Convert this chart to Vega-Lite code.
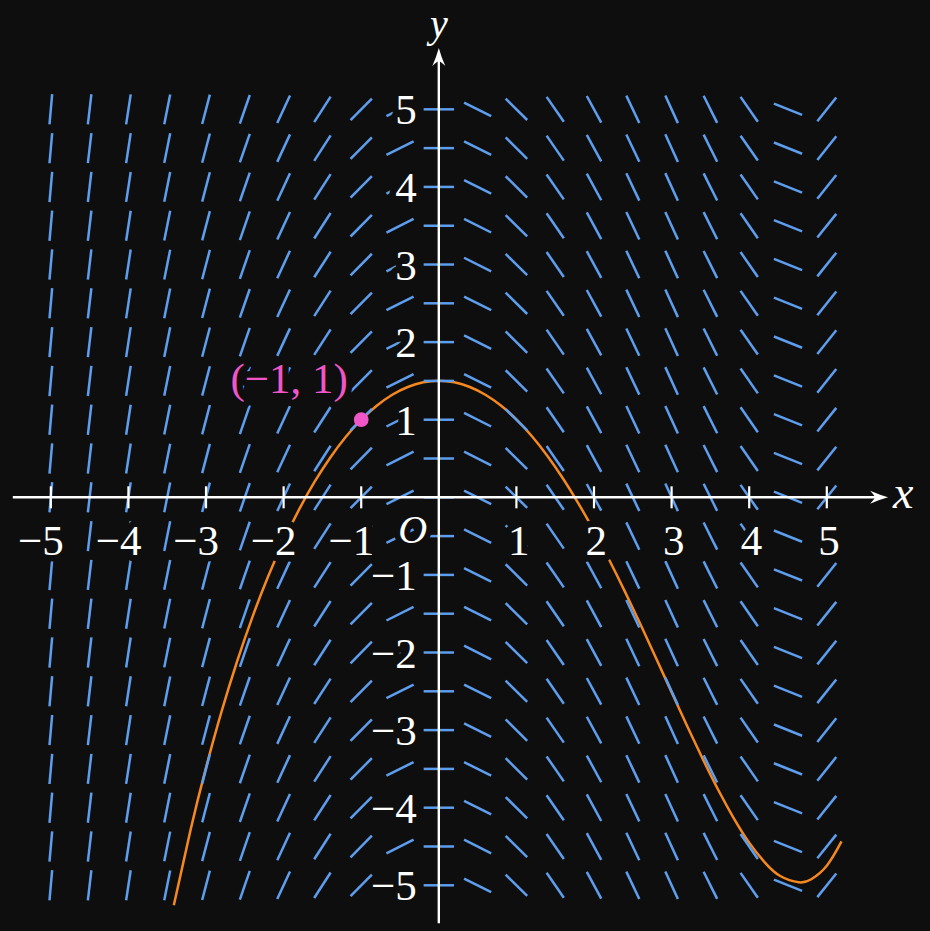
{
  "$schema": "https://vega.github.io/schema/vega-lite/v6.json",
  "width": 930,
  "height": 931,
  "padding": 0,
  "autosize": "none",
  "background": "#0e0e0e",
  "config": {"view": {"stroke": null}},
  "datasets": {
    "curve": [
      {"x":-3.415,"y":-5.258},{"x":-3.2,"y":-4.289},{"x":-3.0,"y":-3.484},{"x":-2.8,"y":-2.762},{"x":-2.6,"y":-2.116},{"x":-2.4,"y":-1.537},{"x":-2.2,"y":-1.021},{"x":-2.0,"y":-0.562},{"x":-1.8,"y":-0.156},{"x":-1.6,"y":0.201},{"x":-1.4,"y":0.511},{"x":-1.2,"y":0.777},{"x":-1.0,"y":1.0},{"x":-0.8,"y":1.181},{"x":-0.6,"y":1.322},{"x":-0.4,"y":1.422},{"x":-0.2,"y":1.482},{"x":0,"y":1.502},{"x":0.2,"y":1.482},{"x":0.4,"y":1.422},{"x":0.6,"y":1.322},{"x":0.8,"y":1.183},{"x":1.0,"y":1.004},{"x":1.2,"y":0.787},{"x":1.4,"y":0.533},{"x":1.6,"y":0.243},{"x":1.8,"y":-0.08},{"x":2.0,"y":-0.434},{"x":2.2,"y":-0.815},{"x":2.4,"y":-1.219},{"x":2.6,"y":-1.64},{"x":2.8,"y":-2.074},{"x":3.0,"y":-2.512},{"x":3.2,"y":-2.947},{"x":3.4,"y":-3.369},{"x":3.6,"y":-3.769},{"x":3.8,"y":-4.133},{"x":4.0,"y":-4.45},{"x":4.2,"y":-4.704},{"x":4.4,"y":-4.88},{"x":4.64,"y":-4.961},{"x":4.8,"y":-4.922},{"x":5.0,"y":-4.748},{"x":5.19,"y":-4.435}
    ],
    "field": [
      {"x":-5,"y":-5,"d":84.92},{"x":-5,"y":-4.5,"d":84.92},{"x":-5,"y":-4,"d":84.92},{"x":-5,"y":-3.5,"d":84.92},{"x":-5,"y":-3,"d":84.92},{"x":-5,"y":-2.5,"d":84.92},{"x":-5,"y":-2,"d":84.92},{"x":-5,"y":-1.5,"d":84.92},{"x":-5,"y":-1,"d":84.92},{"x":-5,"y":-0.5,"d":84.92},{"x":-5,"y":0,"d":84.92},{"x":-5,"y":0.5,"d":84.92},{"x":-5,"y":1,"d":84.92},{"x":-5,"y":1.5,"d":84.92},{"x":-5,"y":2,"d":84.92},{"x":-5,"y":2.5,"d":84.92},{"x":-5,"y":3,"d":84.92},{"x":-5,"y":3.5,"d":84.92},{"x":-5,"y":4,"d":84.92},{"x":-5,"y":4.5,"d":84.92},{"x":-5,"y":5,"d":84.92},
      {"x":-4.5,"y":-5,"d":83.37},{"x":-4.5,"y":-4.5,"d":83.37},{"x":-4.5,"y":-4,"d":83.37},{"x":-4.5,"y":-3.5,"d":83.37},{"x":-4.5,"y":-3,"d":83.37},{"x":-4.5,"y":-2.5,"d":83.37},{"x":-4.5,"y":-2,"d":83.37},{"x":-4.5,"y":-1.5,"d":83.37},{"x":-4.5,"y":-1,"d":83.37},{"x":-4.5,"y":-0.5,"d":83.37},{"x":-4.5,"y":0,"d":83.37},{"x":-4.5,"y":0.5,"d":83.37},{"x":-4.5,"y":1,"d":83.37},{"x":-4.5,"y":1.5,"d":83.37},{"x":-4.5,"y":2,"d":83.37},{"x":-4.5,"y":2.5,"d":83.37},{"x":-4.5,"y":3,"d":83.37},{"x":-4.5,"y":3.5,"d":83.37},{"x":-4.5,"y":4,"d":83.37},{"x":-4.5,"y":4.5,"d":83.37},{"x":-4.5,"y":5,"d":83.37},
      {"x":-4,"y":-5,"d":81.33},{"x":-4,"y":-4.5,"d":81.33},{"x":-4,"y":-4,"d":81.33},{"x":-4,"y":-3.5,"d":81.33},{"x":-4,"y":-3,"d":81.33},{"x":-4,"y":-2.5,"d":81.33},{"x":-4,"y":-2,"d":81.33},{"x":-4,"y":-1.5,"d":81.33},{"x":-4,"y":-1,"d":81.33},{"x":-4,"y":-0.5,"d":81.33},{"x":-4,"y":0,"d":81.33},{"x":-4,"y":0.5,"d":81.33},{"x":-4,"y":1,"d":81.33},{"x":-4,"y":1.5,"d":81.33},{"x":-4,"y":2,"d":81.33},{"x":-4,"y":2.5,"d":81.33},{"x":-4,"y":3,"d":81.33},{"x":-4,"y":3.5,"d":81.33},{"x":-4,"y":4,"d":81.33},{"x":-4,"y":4.5,"d":81.33},{"x":-4,"y":5,"d":81.33},
      {"x":-3.5,"y":-5,"d":78.69},{"x":-3.5,"y":-4.5,"d":78.69},{"x":-3.5,"y":-4,"d":78.69},{"x":-3.5,"y":-3.5,"d":78.69},{"x":-3.5,"y":-3,"d":78.69},{"x":-3.5,"y":-2.5,"d":78.69},{"x":-3.5,"y":-2,"d":78.69},{"x":-3.5,"y":-1.5,"d":78.69},{"x":-3.5,"y":-1,"d":78.69},{"x":-3.5,"y":-0.5,"d":78.69},{"x":-3.5,"y":0,"d":78.69},{"x":-3.5,"y":0.5,"d":78.69},{"x":-3.5,"y":1,"d":78.69},{"x":-3.5,"y":1.5,"d":78.69},{"x":-3.5,"y":2,"d":78.69},{"x":-3.5,"y":2.5,"d":78.69},{"x":-3.5,"y":3,"d":78.69},{"x":-3.5,"y":3.5,"d":78.69},{"x":-3.5,"y":4,"d":78.69},{"x":-3.5,"y":4.5,"d":78.69},{"x":-3.5,"y":5,"d":78.69},
      {"x":-3,"y":-5,"d":75.29},{"x":-3,"y":-4.5,"d":75.29},{"x":-3,"y":-4,"d":75.29},{"x":-3,"y":-3.5,"d":75.29},{"x":-3,"y":-3,"d":75.29},{"x":-3,"y":-2.5,"d":75.29},{"x":-3,"y":-2,"d":75.29},{"x":-3,"y":-1.5,"d":75.29},{"x":-3,"y":-1,"d":75.29},{"x":-3,"y":-0.5,"d":75.29},{"x":-3,"y":0,"d":75.29},{"x":-3,"y":0.5,"d":75.29},{"x":-3,"y":1,"d":75.29},{"x":-3,"y":1.5,"d":75.29},{"x":-3,"y":2,"d":75.29},{"x":-3,"y":2.5,"d":75.29},{"x":-3,"y":3,"d":75.29},{"x":-3,"y":3.5,"d":75.29},{"x":-3,"y":4,"d":75.29},{"x":-3,"y":4.5,"d":75.29},{"x":-3,"y":5,"d":75.29},
      {"x":-2.5,"y":-5,"d":70.92},{"x":-2.5,"y":-4.5,"d":70.92},{"x":-2.5,"y":-4,"d":70.92},{"x":-2.5,"y":-3.5,"d":70.92},{"x":-2.5,"y":-3,"d":70.92},{"x":-2.5,"y":-2.5,"d":70.92},{"x":-2.5,"y":-2,"d":70.92},{"x":-2.5,"y":-1.5,"d":70.92},{"x":-2.5,"y":-1,"d":70.92},{"x":-2.5,"y":-0.5,"d":70.92},{"x":-2.5,"y":0,"d":70.92},{"x":-2.5,"y":0.5,"d":70.92},{"x":-2.5,"y":1,"d":70.92},{"x":-2.5,"y":1.5,"d":70.92},{"x":-2.5,"y":2,"d":70.92},{"x":-2.5,"y":2.5,"d":70.92},{"x":-2.5,"y":3,"d":70.92},{"x":-2.5,"y":3.5,"d":70.92},{"x":-2.5,"y":4,"d":70.92},{"x":-2.5,"y":4.5,"d":70.92},{"x":-2.5,"y":5,"d":70.92},
      {"x":-2,"y":-5,"d":65.16},{"x":-2,"y":-4.5,"d":65.16},{"x":-2,"y":-4,"d":65.16},{"x":-2,"y":-3.5,"d":65.16},{"x":-2,"y":-3,"d":65.16},{"x":-2,"y":-2.5,"d":65.16},{"x":-2,"y":-2,"d":65.16},{"x":-2,"y":-1.5,"d":65.16},{"x":-2,"y":-1,"d":65.16},{"x":-2,"y":-0.5,"d":65.16},{"x":-2,"y":0,"d":65.16},{"x":-2,"y":0.5,"d":65.16},{"x":-2,"y":1,"d":65.16},{"x":-2,"y":1.5,"d":65.16},{"x":-2,"y":2,"d":65.16},{"x":-2,"y":2.5,"d":65.16},{"x":-2,"y":3,"d":65.16},{"x":-2,"y":3.5,"d":65.16},{"x":-2,"y":4,"d":65.16},{"x":-2,"y":4.5,"d":65.16},{"x":-2,"y":5,"d":65.16},
      {"x":-1.5,"y":-5,"d":57.18},{"x":-1.5,"y":-4.5,"d":57.18},{"x":-1.5,"y":-4,"d":57.18},{"x":-1.5,"y":-3.5,"d":57.18},{"x":-1.5,"y":-3,"d":57.18},{"x":-1.5,"y":-2.5,"d":57.18},{"x":-1.5,"y":-2,"d":57.18},{"x":-1.5,"y":-1.5,"d":57.18},{"x":-1.5,"y":-1,"d":57.18},{"x":-1.5,"y":-0.5,"d":57.18},{"x":-1.5,"y":0,"d":57.18},{"x":-1.5,"y":0.5,"d":57.18},{"x":-1.5,"y":1,"d":57.18},{"x":-1.5,"y":1.5,"d":57.18},{"x":-1.5,"y":2,"d":57.18},{"x":-1.5,"y":2.5,"d":57.18},{"x":-1.5,"y":3,"d":57.18},{"x":-1.5,"y":3.5,"d":57.18},{"x":-1.5,"y":4,"d":57.18},{"x":-1.5,"y":4.5,"d":57.18},{"x":-1.5,"y":5,"d":57.18},
      {"x":-1,"y":-5,"d":45.28},{"x":-1,"y":-4.5,"d":45.28},{"x":-1,"y":-4,"d":45.28},{"x":-1,"y":-3.5,"d":45.28},{"x":-1,"y":-3,"d":45.28},{"x":-1,"y":-2.5,"d":45.28},{"x":-1,"y":-2,"d":45.28},{"x":-1,"y":-1.5,"d":45.28},{"x":-1,"y":-1,"d":45.28},{"x":-1,"y":-0.5,"d":45.28},{"x":-1,"y":0,"d":45.28},{"x":-1,"y":0.5,"d":45.28},{"x":-1,"y":1,"d":45.28},{"x":-1,"y":1.5,"d":45.28},{"x":-1,"y":2,"d":45.28},{"x":-1,"y":2.5,"d":45.28},{"x":-1,"y":3,"d":45.28},{"x":-1,"y":3.5,"d":45.28},{"x":-1,"y":4,"d":45.28},{"x":-1,"y":4.5,"d":45.28},{"x":-1,"y":5,"d":45.28},
      {"x":-0.5,"y":-5,"d":26.59},{"x":-0.5,"y":-4.5,"d":26.59},{"x":-0.5,"y":-4,"d":26.59},{"x":-0.5,"y":-3.5,"d":26.59},{"x":-0.5,"y":-3,"d":26.59},{"x":-0.5,"y":-2.5,"d":26.59},{"x":-0.5,"y":-2,"d":26.59},{"x":-0.5,"y":-1.5,"d":26.59},{"x":-0.5,"y":-1,"d":26.59},{"x":-0.5,"y":-0.5,"d":26.59},{"x":-0.5,"y":0,"d":26.59},{"x":-0.5,"y":0.5,"d":26.59},{"x":-0.5,"y":1,"d":26.59},{"x":-0.5,"y":1.5,"d":26.59},{"x":-0.5,"y":2,"d":26.59},{"x":-0.5,"y":2.5,"d":26.59},{"x":-0.5,"y":3,"d":26.59},{"x":-0.5,"y":3.5,"d":26.59},{"x":-0.5,"y":4,"d":26.59},{"x":-0.5,"y":4.5,"d":26.59},{"x":-0.5,"y":5,"d":26.59},
      {"x":0,"y":-5,"d":0},{"x":0,"y":-4.5,"d":0},{"x":0,"y":-4,"d":0},{"x":0,"y":-3.5,"d":0},{"x":0,"y":-3,"d":0},{"x":0,"y":-2.5,"d":0},{"x":0,"y":-2,"d":0},{"x":0,"y":-1.5,"d":0},{"x":0,"y":-1,"d":0},{"x":0,"y":-0.5,"d":0},{"x":0,"y":0,"d":0},{"x":0,"y":0.5,"d":0},{"x":0,"y":1,"d":0},{"x":0,"y":1.5,"d":0},{"x":0,"y":2,"d":0},{"x":0,"y":2.5,"d":0},{"x":0,"y":3,"d":0},{"x":0,"y":3.5,"d":0},{"x":0,"y":4,"d":0},{"x":0,"y":4.5,"d":0},{"x":0,"y":5,"d":0},
      {"x":0.5,"y":-5,"d":-26.54},{"x":0.5,"y":-4.5,"d":-26.54},{"x":0.5,"y":-4,"d":-26.54},{"x":0.5,"y":-3.5,"d":-26.54},{"x":0.5,"y":-3,"d":-26.54},{"x":0.5,"y":-2.5,"d":-26.54},{"x":0.5,"y":-2,"d":-26.54},{"x":0.5,"y":-1.5,"d":-26.54},{"x":0.5,"y":-1,"d":-26.54},{"x":0.5,"y":-0.5,"d":-26.54},{"x":0.5,"y":0,"d":-26.54},{"x":0.5,"y":0.5,"d":-26.54},{"x":0.5,"y":1,"d":-26.54},{"x":0.5,"y":1.5,"d":-26.54},{"x":0.5,"y":2,"d":-26.54},{"x":0.5,"y":2.5,"d":-26.54},{"x":0.5,"y":3,"d":-26.54},{"x":0.5,"y":3.5,"d":-26.54},{"x":0.5,"y":4,"d":-26.54},{"x":0.5,"y":4.5,"d":-26.54},{"x":0.5,"y":5,"d":-26.54},
      {"x":1,"y":-5,"d":-44.71},{"x":1,"y":-4.5,"d":-44.71},{"x":1,"y":-4,"d":-44.71},{"x":1,"y":-3.5,"d":-44.71},{"x":1,"y":-3,"d":-44.71},{"x":1,"y":-2.5,"d":-44.71},{"x":1,"y":-2,"d":-44.71},{"x":1,"y":-1.5,"d":-44.71},{"x":1,"y":-1,"d":-44.71},{"x":1,"y":-0.5,"d":-44.71},{"x":1,"y":0,"d":-44.71},{"x":1,"y":0.5,"d":-44.71},{"x":1,"y":1,"d":-44.71},{"x":1,"y":1.5,"d":-44.71},{"x":1,"y":2,"d":-44.71},{"x":1,"y":2.5,"d":-44.71},{"x":1,"y":3,"d":-44.71},{"x":1,"y":3.5,"d":-44.71},{"x":1,"y":4,"d":-44.71},{"x":1,"y":4.5,"d":-44.71},{"x":1,"y":5,"d":-44.71},
      {"x":1.5,"y":-5,"d":-55.4},{"x":1.5,"y":-4.5,"d":-55.4},{"x":1.5,"y":-4,"d":-55.4},{"x":1.5,"y":-3.5,"d":-55.4},{"x":1.5,"y":-3,"d":-55.4},{"x":1.5,"y":-2.5,"d":-55.4},{"x":1.5,"y":-2,"d":-55.4},{"x":1.5,"y":-1.5,"d":-55.4},{"x":1.5,"y":-1,"d":-55.4},{"x":1.5,"y":-0.5,"d":-55.4},{"x":1.5,"y":0,"d":-55.4},{"x":1.5,"y":0.5,"d":-55.4},{"x":1.5,"y":1,"d":-55.4},{"x":1.5,"y":1.5,"d":-55.4},{"x":1.5,"y":2,"d":-55.4},{"x":1.5,"y":2.5,"d":-55.4},{"x":1.5,"y":3,"d":-55.4},{"x":1.5,"y":3.5,"d":-55.4},{"x":1.5,"y":4,"d":-55.4},{"x":1.5,"y":4.5,"d":-55.4},{"x":1.5,"y":5,"d":-55.4},
      {"x":2,"y":-5,"d":-61.48},{"x":2,"y":-4.5,"d":-61.48},{"x":2,"y":-4,"d":-61.48},{"x":2,"y":-3.5,"d":-61.48},{"x":2,"y":-3,"d":-61.48},{"x":2,"y":-2.5,"d":-61.48},{"x":2,"y":-2,"d":-61.48},{"x":2,"y":-1.5,"d":-61.48},{"x":2,"y":-1,"d":-61.48},{"x":2,"y":-0.5,"d":-61.48},{"x":2,"y":0,"d":-61.48},{"x":2,"y":0.5,"d":-61.48},{"x":2,"y":1,"d":-61.48},{"x":2,"y":1.5,"d":-61.48},{"x":2,"y":2,"d":-61.48},{"x":2,"y":2.5,"d":-61.48},{"x":2,"y":3,"d":-61.48},{"x":2,"y":3.5,"d":-61.48},{"x":2,"y":4,"d":-61.48},{"x":2,"y":4.5,"d":-61.48},{"x":2,"y":5,"d":-61.48},
      {"x":2.5,"y":-5,"d":-64.63},{"x":2.5,"y":-4.5,"d":-64.63},{"x":2.5,"y":-4,"d":-64.63},{"x":2.5,"y":-3.5,"d":-64.63},{"x":2.5,"y":-3,"d":-64.63},{"x":2.5,"y":-2.5,"d":-64.63},{"x":2.5,"y":-2,"d":-64.63},{"x":2.5,"y":-1.5,"d":-64.63},{"x":2.5,"y":-1,"d":-64.63},{"x":2.5,"y":-0.5,"d":-64.63},{"x":2.5,"y":0,"d":-64.63},{"x":2.5,"y":0.5,"d":-64.63},{"x":2.5,"y":1,"d":-64.63},{"x":2.5,"y":1.5,"d":-64.63},{"x":2.5,"y":2,"d":-64.63},{"x":2.5,"y":2.5,"d":-64.63},{"x":2.5,"y":3,"d":-64.63},{"x":2.5,"y":3.5,"d":-64.63},{"x":2.5,"y":4,"d":-64.63},{"x":2.5,"y":4.5,"d":-64.63},{"x":2.5,"y":5,"d":-64.63},
      {"x":3,"y":-5,"d":-65.45},{"x":3,"y":-4.5,"d":-65.45},{"x":3,"y":-4,"d":-65.45},{"x":3,"y":-3.5,"d":-65.45},{"x":3,"y":-3,"d":-65.45},{"x":3,"y":-2.5,"d":-65.45},{"x":3,"y":-2,"d":-65.45},{"x":3,"y":-1.5,"d":-65.45},{"x":3,"y":-1,"d":-65.45},{"x":3,"y":-0.5,"d":-65.45},{"x":3,"y":0,"d":-65.45},{"x":3,"y":0.5,"d":-65.45},{"x":3,"y":1,"d":-65.45},{"x":3,"y":1.5,"d":-65.45},{"x":3,"y":2,"d":-65.45},{"x":3,"y":2.5,"d":-65.45},{"x":3,"y":3,"d":-65.45},{"x":3,"y":3.5,"d":-65.45},{"x":3,"y":4,"d":-65.45},{"x":3,"y":4.5,"d":-65.45},{"x":3,"y":5,"d":-65.45},
      {"x":3.5,"y":-5,"d":-63.43},{"x":3.5,"y":-4.5,"d":-63.43},{"x":3.5,"y":-4,"d":-63.43},{"x":3.5,"y":-3.5,"d":-63.43},{"x":3.5,"y":-3,"d":-63.43},{"x":3.5,"y":-2.5,"d":-63.43},{"x":3.5,"y":-2,"d":-63.43},{"x":3.5,"y":-1.5,"d":-63.43},{"x":3.5,"y":-1,"d":-63.43},{"x":3.5,"y":-0.5,"d":-63.43},{"x":3.5,"y":0,"d":-63.43},{"x":3.5,"y":0.5,"d":-63.43},{"x":3.5,"y":1,"d":-63.43},{"x":3.5,"y":1.5,"d":-63.43},{"x":3.5,"y":2,"d":-63.43},{"x":3.5,"y":2.5,"d":-63.43},{"x":3.5,"y":3,"d":-63.43},{"x":3.5,"y":3.5,"d":-63.43},{"x":3.5,"y":4,"d":-63.43},{"x":3.5,"y":4.5,"d":-63.43},{"x":3.5,"y":5,"d":-63.43},
      {"x":4,"y":-5,"d":-55.22},{"x":4,"y":-4.5,"d":-55.22},{"x":4,"y":-4,"d":-55.22},{"x":4,"y":-3.5,"d":-55.22},{"x":4,"y":-3,"d":-55.22},{"x":4,"y":-2.5,"d":-55.22},{"x":4,"y":-2,"d":-55.22},{"x":4,"y":-1.5,"d":-55.22},{"x":4,"y":-1,"d":-55.22},{"x":4,"y":-0.5,"d":-55.22},{"x":4,"y":0,"d":-55.22},{"x":4,"y":0.5,"d":-55.22},{"x":4,"y":1,"d":-55.22},{"x":4,"y":1.5,"d":-55.22},{"x":4,"y":2,"d":-55.22},{"x":4,"y":2.5,"d":-55.22},{"x":4,"y":3,"d":-55.22},{"x":4,"y":3.5,"d":-55.22},{"x":4,"y":4,"d":-55.22},{"x":4,"y":4.5,"d":-55.22},{"x":4,"y":5,"d":-55.22},
      {"x":4.5,"y":-5,"d":-21.77},{"x":4.5,"y":-4.5,"d":-21.77},{"x":4.5,"y":-4,"d":-21.77},{"x":4.5,"y":-3.5,"d":-21.77},{"x":4.5,"y":-3,"d":-21.77},{"x":4.5,"y":-2.5,"d":-21.77},{"x":4.5,"y":-2,"d":-21.77},{"x":4.5,"y":-1.5,"d":-21.77},{"x":4.5,"y":-1,"d":-21.77},{"x":4.5,"y":-0.5,"d":-21.77},{"x":4.5,"y":0,"d":-21.77},{"x":4.5,"y":0.5,"d":-21.77},{"x":4.5,"y":1,"d":-21.77},{"x":4.5,"y":1.5,"d":-21.77},{"x":4.5,"y":2,"d":-21.77},{"x":4.5,"y":2.5,"d":-21.77},{"x":4.5,"y":3,"d":-21.77},{"x":4.5,"y":3.5,"d":-21.77},{"x":4.5,"y":4,"d":-21.77},{"x":4.5,"y":4.5,"d":-21.77},{"x":4.5,"y":5,"d":-21.77},
      {"x":5,"y":-5,"d":51.34},{"x":5,"y":-4.5,"d":51.34},{"x":5,"y":-4,"d":51.34},{"x":5,"y":-3.5,"d":51.34},{"x":5,"y":-3,"d":51.34},{"x":5,"y":-2.5,"d":51.34},{"x":5,"y":-2,"d":51.34},{"x":5,"y":-1.5,"d":51.34},{"x":5,"y":-1,"d":51.34},{"x":5,"y":-0.5,"d":51.34},{"x":5,"y":0,"d":51.34},{"x":5,"y":0.5,"d":51.34},{"x":5,"y":1,"d":51.34},{"x":5,"y":1.5,"d":51.34},{"x":5,"y":2,"d":51.34},{"x":5,"y":2.5,"d":51.34},{"x":5,"y":3,"d":51.34},{"x":5,"y":3.5,"d":51.34},{"x":5,"y":4,"d":51.34},{"x":5,"y":4.5,"d":51.34},{"x":5,"y":5,"d":51.34}
    ],
    "axes": [
      {"x":-5.49,"x2":5.72,"y":0,"y2":0},
      {"x":0,"x2":0,"y":-5.49,"y2":5.72}
    ],
    "arrows": [
      {"x":5.79,"y":0,"d":0},
      {"x":0,"y":5.79,"d":90}
    ],
    "xticks": [
      {"x":-5,"y":0,"t":"−5"},{"x":-4,"y":0,"t":"−4"},{"x":-3,"y":0,"t":"−3"},{"x":-2,"y":0,"t":"−2"},{"x":-1,"y":0,"t":"−1"},
      {"x":1,"y":0,"t":"1"},{"x":2,"y":0,"t":"2"},{"x":3,"y":0,"t":"3"},{"x":4,"y":0,"t":"4"},{"x":5,"y":0,"t":"5"}
    ],
    "yticks": [
      {"x":0,"y":5,"t":"5"},{"x":0,"y":4,"t":"4"},{"x":0,"y":3,"t":"3"},{"x":0,"y":2,"t":"2"},{"x":0,"y":1,"t":"1"},
      {"x":0,"y":-1,"t":"−1"},{"x":0,"y":-2,"t":"−2"},{"x":0,"y":-3,"t":"−3"},{"x":0,"y":-4,"t":"−4"},{"x":0,"y":-5,"t":"−5"}
    ],
    "origin": [{"x":0,"y":0,"t":"O"}],
    "xname": [{"x":5.79,"y":0,"t":"x"}],
    "yname": [{"x":0,"y":5.79,"t":"y"}],
    "point": [{"x":-1,"y":1,"t":"(−1, 1)"}]
  },
  "encoding": {
    "x": {"field":"x","type":"quantitative","scale":{"domain":[-5.655,6.33],"nice":false,"zero":false},"axis":null},
    "y": {"field":"y","type":"quantitative","scale":{"domain":[-5.589,6.409],"nice":false,"zero":false},"axis":null}
  },
  "layer": [
    {
      "data": {"name":"curve"},
      "mark": {"type":"line","color":"#f5891f","strokeWidth":2.5,"interpolate":"natural"}
    },
    {
      "data": {"name":"field"},
      "mark": {"type":"point","shape":"M-1,0L1,0","filled":false,"stroke":"#5e9eee","strokeWidth":2.5,"size":920,"opacity":1,"strokeCap":"butt"},
      "encoding": {
        "angle": {"field":"d","type":"quantitative","scale":{"domain":[-90,90],"range":[90,-90]}}
      }
    },
    {
      "data": {"name":"axes"},
      "mark": {"type":"rule","color":"#ffffff","strokeWidth":2.4},
      "encoding": {
        "x2": {"field":"x2"},
        "y2": {"field":"y2"}
      }
    },
    {
      "data": {"name":"arrows"},
      "mark": {"type":"point","shape":"M0,0Q-0.45,-0.12,-1,-0.36Q-0.76,-0.1,-0.72,0Q-0.76,0.1,-1,0.36Q-0.45,0.12,0,0Z","filled":true,"color":"#ffffff","size":1296,"opacity":1,"strokeWidth":0},
      "encoding": {
        "angle": {"field":"d","type":"quantitative","scale":{"domain":[-90,90],"range":[90,-90]}}
      }
    },
    {
      "data": {"name":"xticks"},
      "mark": {"type":"point","shape":"M0,-1L0,1","filled":false,"stroke":"#ffffff","strokeWidth":2.2,"size":484,"opacity":1,"strokeCap":"butt"}
    },
    {
      "data": {"name":"xticks"},
      "encoding": {"text": {"field":"t"}},
      "layer": [
        {"mark": {"type":"text","font":"Liberation Serif","fontSize":43,"align":"right","baseline":"alphabetic","dx":13,"dy":58,"fill":"#0e0e0e","stroke":"#0e0e0e","strokeWidth":13,"strokeJoin":"round"}},
        {"mark": {"type":"text","font":"Liberation Serif","fontSize":43,"align":"right","baseline":"alphabetic","dx":13,"dy":58,"fill":"#ffffff"}}
      ]
    },
    {
      "data": {"name":"yticks"},
      "encoding": {"text": {"field":"t"}},
      "layer": [
        {"mark": {"type":"text","font":"Liberation Serif","fontSize":43,"align":"right","baseline":"alphabetic","dx":-22,"dy":15,"fill":"#0e0e0e","stroke":"#0e0e0e","strokeWidth":13,"strokeJoin":"round"}},
        {"mark": {"type":"text","font":"Liberation Serif","fontSize":43,"align":"right","baseline":"alphabetic","dx":-22,"dy":15,"fill":"#ffffff"}}
      ]
    },
    {
      "data": {"name":"origin"},
      "encoding": {"text": {"field":"t"}},
      "layer": [
        {"mark": {"type":"text","font":"Liberation Serif","fontStyle":"italic","fontSize":40,"align":"center","baseline":"alphabetic","dx":-26,"dy":46,"fill":"#0e0e0e","stroke":"#0e0e0e","strokeWidth":12,"strokeJoin":"round"}},
        {"mark": {"type":"text","font":"Liberation Serif","fontStyle":"italic","fontSize":40,"align":"center","baseline":"alphabetic","dx":-26,"dy":46,"fill":"#ffffff"}}
      ]
    },
    {
      "data": {"name":"xname"},
      "mark": {"type":"text","font":"Liberation Serif","fontStyle":"italic","fontSize":46,"align":"left","baseline":"alphabetic","dx":5,"dy":11,"fill":"#ffffff"},
      "encoding": {"text": {"field":"t"}}
    },
    {
      "data": {"name":"yname"},
      "mark": {"type":"text","font":"Liberation Serif","fontStyle":"italic","fontSize":40,"align":"center","baseline":"alphabetic","dx":0,"dy":-11,"fill":"#ffffff"},
      "encoding": {"text": {"field":"t"}}
    },
    {
      "data": {"name":"point"},
      "encoding": {"text": {"field":"t"}},
      "layer": [
        {"mark": {"type":"text","font":"Liberation Serif","fontSize":43,"align":"center","baseline":"alphabetic","dx":-72,"dy":-27,"fill":"#0e0e0e","stroke":"#0e0e0e","strokeWidth":13,"strokeJoin":"round"}},
        {"mark": {"type":"text","font":"Liberation Serif","fontSize":43,"align":"center","baseline":"alphabetic","dx":-72,"dy":-27,"fill":"#f056c8"}},
        {"mark": {"type":"point","shape":"circle","filled":true,"color":"#f056c8","size":216,"opacity":1}}
      ]
    }
  ]
}
